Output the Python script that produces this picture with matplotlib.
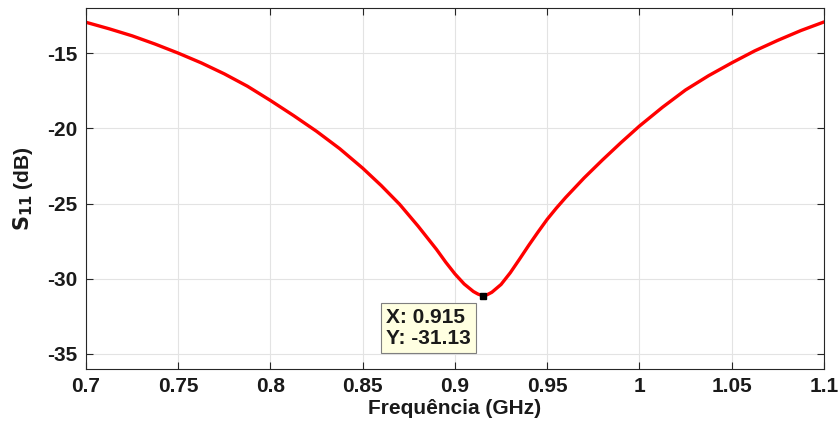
import numpy as np
import matplotlib
matplotlib.use('Agg')
import matplotlib.pyplot as plt

# S11 curve
freq = [0.700, 0.7125, 0.725, 0.7375, 0.750, 0.7625, 0.775, 0.7875, 0.800, 0.8125,
        0.825, 0.8375, 0.850, 0.860, 0.870, 0.880, 0.890, 0.895, 0.900, 0.905,
        0.910, 0.9125, 0.915, 0.9175, 0.920, 0.925, 0.930, 0.935, 0.940, 0.945,
        0.950, 0.955, 0.960, 0.970, 0.980, 0.990, 1.000, 1.0125, 1.025, 1.0375,
        1.050, 1.0625, 1.075, 1.0875, 1.100]
s11 = [-12.95, -13.38, -13.85, -14.40, -15.00, -15.65, -16.38, -17.20, -18.15, -19.15,
       -20.20, -21.35, -22.65, -23.80, -25.05, -26.50, -28.05, -28.90, -29.68, -30.35,
       -30.85, -31.02, -31.13, -31.06, -30.90, -30.38, -29.60, -28.70, -27.78, -26.90,
       -26.05, -25.30, -24.60, -23.30, -22.10, -20.95, -19.85, -18.60, -17.45, -16.50,
       -15.65, -14.85, -14.15, -13.50, -12.93]

tip_x = 0.915
tip_y = -31.13

xticks = [0.7, 0.75, 0.8, 0.85, 0.9, 0.95, 1, 1.05, 1.1]
xtick_labels = ['0.7', '0.75', '0.8', '0.85', '0.9', '0.95', '1', '1.05', '1.1']
yticks = [-35, -30, -25, -20, -15]

plt.rcParams['font.family'] = ['Liberation Sans', 'DejaVu Sans']
plt.rcParams['font.weight'] = 'bold'
plt.rcParams['axes.unicode_minus'] = False

fig = plt.figure(figsize=(8.39, 4.30), dpi=100)
ax = fig.add_axes([0.1025, 0.1419, 0.8795, 0.8395])

ax.plot(freq, s11, color='#ff0000', linewidth=2.4, solid_capstyle='round',
        solid_joinstyle='round')
ax.plot([tip_x], [tip_y], marker='s', color='black', markersize=4.5, linestyle='none')

ax.annotate('X: 0.915\nY: -31.13', xy=(tip_x, tip_y), xycoords='data',
            xytext=(-12, -12), textcoords='offset pixels', ha='right', va='top',
            multialignment='left',
            fontsize=15, fontweight='bold', color='#1a1a1a', linespacing=1.15,
            bbox=dict(boxstyle='square,pad=0.25', facecolor='#ffffe1',
                      edgecolor='#7f7f7f', linewidth=0.8))

ax.set_xlim(0.7, 1.1)
ax.set_ylim(-36, -12)
ax.set_xticks(xticks)
ax.set_xticklabels(xtick_labels)
ax.set_yticks(yticks)

ax.grid(True, color='#e3e3e3', linewidth=0.8)
ax.set_axisbelow(True)
ax.tick_params(direction='in', length=5, width=0.8, top=True, right=True,
               labelsize=15, colors='#262626', labelcolor='#1a1a1a', pad=6)
for sp in ax.spines.values():
    sp.set_color('#262626')
    sp.set_linewidth(0.8)

ax.set_xlabel('Frequência (GHz)', fontsize=15, fontweight='bold', color='#1a1a1a', labelpad=2)
ax.set_ylabel(r'$\mathbf{S}_{\mathbf{11}}$ (dB)', fontsize=15, fontweight='bold',
              color='#1a1a1a', labelpad=9)

fig.savefig('out.png', dpi=100)
